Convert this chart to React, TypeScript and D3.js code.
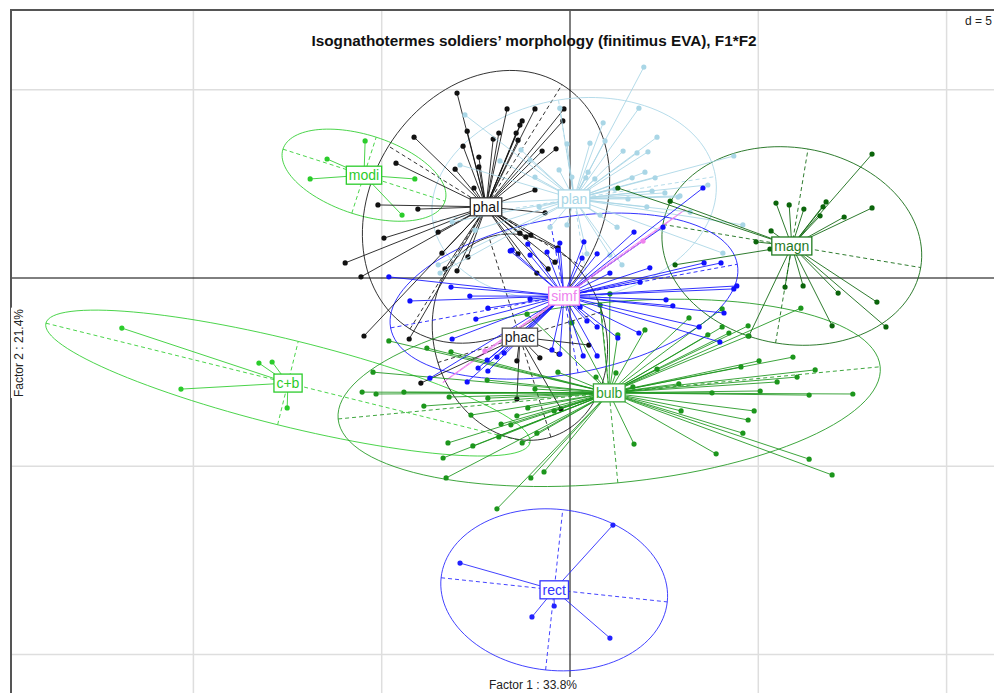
import React, { useEffect, useRef } from "react";
import * as d3 from "d3";

const W = 994;
const H = 693;

const titleText = "Isognathotermes soldiers\u2019 morphology (finitimus EVA), F1*F2";
const xLabel = "Factor 1 : 33.8%";
const yLabel = "Factor 2 : 21.4%";
const gridLabel = "d = 5";
const gridX = [-10, -5, 5, 10];
const gridY = [-10, -5, 5];

type P = [number, number];

const modiPts: P[] = [[-5.44, 3.64], [-6.45, 3.16], [-6.9, 2.63], [-4.12, 2.63], [-4.46, 1.67]];
const cbPts: P[] = [[-11.9, -1.33], [-8.26, -2.26], [-7.91, -2.23], [-10.33, -2.95], [-7.51, -3.45]];
const rectPts: P[] = [[-2.92, -7.57], [1.14, -6.56], [-1.01, -9.0], [-0.42, -8.71], [1.06, -9.56]];
const phacPts: P[] = [[0.5, -1.78], [-0.29, -2.02], [-0.8, -2.12], [-1.41, -2.2], [-1.41, -3.21], [-0.24, -3.48], [-3.96, -2.79]];
const simfPts: P[] = [[-2.26, -1.94], [1.94, 0.98]];
const phalPts: P[] = [
  [-3.0, 4.91], [-1.67, 4.49], [-0.93, 4.49], [-0.16, 4.49], [-0.19, 4.17], [-2.73, 3.9], [-1.27, 4.17],
  [-1.33, 4.06], [-1.43, 3.85], [-1.89, 3.85], [-2.04, 3.69], [-1.38, 3.66], [-2.84, 3.5], [-0.37, 3.43],
  [-0.74, 3.37], [-2.42, 3.21], [-2.42, 2.95], [-3.05, 2.89], [-0.93, 2.34], [-2.55, 2.39], [-3.5, 1.22],
  [-3.4, 0.66], [-2.71, 0.56], [-0.66, 1.73], [-1.33, 1.19], [-1.17, 1.09], [-0.32, 0.8], [-1.04, 1.14],
  [-4.14, 3.74], [-4.62, 3.05], [-5.1, 1.94], [-4.04, 1.83], [-4.94, 1.06], [-5.97, 0.4], [-5.55, 0.03],
  [-5.47, -1.54], [-4.27, -1.62], [-3.32, 0.24], [-3.0, 0.19], [-1.38, 0.64], [-0.88, 0.13], [-0.58, 0.24],
  [-0.4, 0.42]
];
const planPts: P[] = [
  [1.96, 5.6], [1.83, 4.51], [0.88, 4.12], [-0.27, 4.51], [-2.79, 4.33], [0.93, 3.64], [2.31, 3.74],
  [0.53, 3.58], [1.41, 3.37], [1.78, 3.32], [2.07, 3.35], [-0.08, 3.56], [-1.3, 3.4], [-1.06, 3.13],
  [-1.86, 3.11], [-0.93, 2.68], [-0.29, 2.87], [0.05, 2.68], [0.48, 2.81], [0.42, 2.66], [0.66, 2.63],
  [1.65, 2.66], [1.99, 2.81], [1.19, 2.36], [1.54, 2.1], [2.04, 1.89], [3.66, 2.47], [2.92, 2.18],
  [1.25, 1.35], [-0.82, 1.89], [-2.18, 1.99], [0.35, 2.26], [-0.08, 1.41], [-0.53, 1.35], [4.35, 3.24],
  [2.26, 2.66], [2.18, 2.31], [2.52, 2.26], [2.87, 2.15], [4.59, 1.41], [4.06, 0.66], [-3.5, 0.35],
  [-3.45, 0.13], [0.45, 0.64], [1.38, 0.35], [-3.13, 1.49], [-2.52, 1.27], [-2.92, 3.0], [0.8, 1.67],
  [3.19, 1.75], [1.06, 0.61]
];
const bluePts: P[] = [
  [-4.81, 0.03], [-3.16, -0.24], [-4.25, -0.61], [-2.18, -0.8], [-2.5, -1.09], [-3.13, -1.62], [-3.72, -2.66],
  [-2.73, -2.76], [-2.44, -2.39], [-1.94, -2.1], [-1.75, -1.99], [-2.2, -2.18], [-0.48, -1.91], [-0.27, -2.02],
  [0.35, -2.07], [0.72, -2.07], [0.45, -1.14], [0.72, -1.3], [1.27, -1.59], [1.06, 0.13], [-1.54, 0.74],
  [-1.06, 0.61], [-0.61, 0.69], [0.32, 0.53], [0.72, 0.64], [-0.27, 0.93], [-1.06, -0.56], [0.27, -0.77],
  [1.7, 1.22], [3.53, 2.39], [2.47, 1.35], [0.37, 0.96], [-0.32, 0.74], [-1.12, 0.9], [-1.59, 0.72],
  [3.56, 0.4], [4.01, 0.4], [4.43, -0.21], [4.35, -0.29], [2.55, -0.58], [2.73, -0.74], [3.43, -1.3],
  [3.98, -1.7], [4.09, -0.93], [-2.18, -2.47], [1.83, -1.46], [-2.66, -0.48], [1.86, -0.11], [2.12, 0.27]
];
const bulbPts: P[] = [
  [5.92, -2.1], [5.02, -2.2], [4.54, -2.36], [6.51, -2.44], [6.03, -2.63], [5.5, -2.76], [2.89, -2.81],
  [5.05, -3.0], [3.77, -3.05], [7.51, -3.08], [6.35, -3.11], [4.89, -3.53], [2.95, -3.53], [4.73, -3.77],
  [4.59, -4.12], [1.7, -4.41], [3.88, -4.67], [6.35, -4.81], [6.96, -5.23], [2.31, -2.42], [1.67, -2.89],
  [1.22, -2.52], [1.27, -1.51], [4.04, -0.82], [3.16, -1.06], [4.73, -1.27], [4.22, -1.46], [3.66, -1.51],
  [4.04, -1.3], [4.73, -1.54], [6.13, -0.8], [-0.32, -2.5], [0.69, -2.63], [-3.8, -1.86], [-3.16, -1.96],
  [-3.21, -3.16], [-2.18, -3.19], [-0.93, -2.95], [-3.88, -3.4], [-2.63, -3.64], [-1.41, -3.66], [-0.42, -3.53],
  [-1.83, -3.88], [-1.57, -3.9], [-1.89, -4.22], [-0.88, -4.12], [-3.24, -4.38], [-2.58, -4.46], [-1.27, -4.38],
  [-3.37, -4.78], [-3.29, -5.31], [-1.04, -5.31], [-0.69, -5.15], [-1.94, -6.13], [-4.81, -1.67], [-5.23, -2.5],
  [-5.52, -3.03], [-5.15, -3.08], [-4.41, -3.03], [-1.12, -3.45], [-2.2, -2.71], [-1.14, -0.96], [0.05, -1.19],
  [1.06, -0.42], [0.8, -0.72], [1.99, -1.38]
];
const magnPts: P[] = [
  [8.02, 3.29], [8.02, 1.86], [7.28, 1.62], [6.8, 2.02], [6.72, 1.89], [6.64, 1.65], [6.21, 1.83], [5.82, 1.94],
  [5.47, 1.99], [5.34, 1.25], [4.94, 0.96], [5.31, 0.77], [2.79, 0.35], [2.66, 2.04], [5.71, -0.24], [6.19, -0.21],
  [7.12, -0.4], [8.15, -0.64], [6.96, -1.27], [8.39, -1.3], [4.75, -1.54], [1.27, 2.39]
];

// class labels, centroids and ellipse parameters (semi-axes in units, angle in degrees)
const classLabels = ["modi", "c+b", "phac", "phal", "plan", "magn", "bulb", "", "rect", "simf"];
const classPoints = [modiPts, cbPts, phacPts, phalPts, planPts, magnPts, bulbPts, bluePts, rectPts, simfPts];
const centerX = [-5.47, -7.49, -1.33, -2.23, 0.11, 5.89, 1.04, -0.16, -0.42, -0.16];
const centerY = [2.73, -2.79, -1.57, 1.89, 2.1, 0.85, -3.05, -0.48, -8.28, -0.48];
const ellA = [2.26, 6.62, 2.78, 3.82, 3.8, 3.47, 7.23, 4.68, 3.02, 3.95];
const ellB = [1.06, 1.14, 2.28, 3.05, 2.66, 2.61, 2.4, 2.07, 2.14, 0.02];
const ellAngle = [-17.8, -13.9, 107.2, 58.1, 9, -9.5, 5.5, 10.4, -6.1, 35.5];

const classColors = ["#2bcc2b", "#2bcc2b", "#111111", "#111111", "#a9d6e6", "#0b650b", "#1c961c", "#1010ff", "#2222ff", "#ee82ee"];
const labelBorder = ["#2bcc2b", "#2bcc2b", "#555555", "#333333", "#a9d6e6", "#1f7a1f", "#3aa83a", "#1010ff", "#3333ff", "#ee82ee"];
const labelText = ["#2bcc2b", "#2bcc2b", "#222222", "#111111", "#a9d6e6", "#1f7a1f", "#2f9f2f", "#1010ff", "#3333ff", "#ee82ee"];

export default function App() {
  const ref = useRef<SVGSVGElement | null>(null);

  useEffect(() => {
    const svg = d3.select(ref.current);
    svg.selectAll("*").remove();
    const k = 37.66;
    const x = d3.scaleLinear().domain([-15, 10]).range([570 - 15 * k, 570 + 10 * k]);
    const y = d3.scaleLinear().domain([-10, 5]).range([278 + 10 * k, 278 - 5 * k]);
    const font = "'Liberation Sans', Arial, sans-serif";

    svg.append("rect").attr("x", 0).attr("y", 0).attr("width", W).attr("height", H).attr("fill", "#fff");

    // grid
    const g = svg.append("g");
    gridX.forEach((v) => {
      g.append("line").attr("x1", x(v)).attr("x2", x(v)).attr("y1", 10).attr("y2", H)
        .attr("stroke", "#dedede").attr("stroke-width", 1.5);
    });
    gridY.forEach((v) => {
      g.append("line").attr("x1", 11).attr("x2", W).attr("y1", y(v)).attr("y2", y(v))
        .attr("stroke", "#dedede").attr("stroke-width", 1.5);
    });
    // axes at zero
    g.append("line").attr("x1", x(0)).attr("x2", x(0)).attr("y1", 10).attr("y2", H).attr("stroke", "#000").attr("stroke-width", 1);
    g.append("line").attr("x1", 11).attr("x2", W).attr("y1", y(0)).attr("y2", y(0)).attr("stroke", "#000").attr("stroke-width", 1);

    // d = 5 label
    svg.append("text").attr("x", 992).attr("y", 25).attr("text-anchor", "end")
      .attr("font-family", font).attr("font-size", 12).attr("fill", "#222").text(gridLabel);

    const line = d3.line<P>().x((p) => x(p[0])).y((p) => y(p[1]));

    const n = classLabels.length;
    // ellipses
    for (let i = 0; i < n; i++) {
      const r = (ellAngle[i] * Math.PI) / 180;
      const cx = centerX[i], cy = centerY[i], a = ellA[i], b = ellB[i];
      const pts: P[] = d3.range(0, 121).map((j) => {
        const t = (j / 120) * 2 * Math.PI;
        const ex = a * Math.cos(t), ey = b * Math.sin(t);
        return [cx + ex * Math.cos(r) - ey * Math.sin(r), cy + ex * Math.sin(r) + ey * Math.cos(r)];
      });
      svg.append("path").attr("d", line(pts)).attr("fill", "none").attr("stroke", classColors[i]).attr("stroke-width", 1).attr("opacity", 0.85);
      const ax: P[] = [[cx - a * Math.cos(r), cy - a * Math.sin(r)], [cx + a * Math.cos(r), cy + a * Math.sin(r)]];
      const bx: P[] = [[cx + b * Math.sin(r), cy - b * Math.cos(r)], [cx - b * Math.sin(r), cy + b * Math.cos(r)]];
      [ax, bx].forEach((seg) => {
        svg.append("path").attr("d", line(seg)).attr("fill", "none").attr("stroke", classColors[i])
          .attr("stroke-width", 1).attr("stroke-dasharray", "4,3").attr("opacity", 0.85);
      });
    }

    // stars and points
    for (let i = 0; i < n; i++) {
      const grp = svg.append("g");
      classPoints[i].forEach((p) => {
        grp.append("line").attr("x1", x(centerX[i])).attr("y1", y(centerY[i])).attr("x2", x(p[0])).attr("y2", y(p[1]))
          .attr("stroke", classColors[i]).attr("stroke-width", 1).attr("opacity", 0.85);
      });
      classPoints[i].forEach((p) => {
        grp.append("circle").attr("cx", x(p[0])).attr("cy", y(p[1])).attr("r", 2.6).attr("fill", classColors[i]);
      });
    }

    // labels
    for (let i = 0; i < n; i++) {
      if (!classLabels[i]) continue;
      const lg = svg.append("g");
      const t = lg.append("text").attr("x", x(centerX[i])).attr("y", y(centerY[i]) + 5).attr("text-anchor", "middle")
        .attr("font-family", font).attr("font-size", 14).attr("fill", labelText[i]).text(classLabels[i]);
      const bb = (t.node() as SVGTextElement).getBBox();
      lg.insert("rect", "text").attr("x", bb.x - 2.5).attr("y", y(centerY[i]) - 9).attr("width", bb.width + 5).attr("height", 18)
        .attr("fill", "#fff").attr("stroke", labelBorder[i]).attr("stroke-width", 1.3);
    }

    // frame (top and left)
    svg.append("line").attr("x1", 10).attr("x2", W).attr("y1", 10).attr("y2", 10).attr("stroke", "#555").attr("stroke-width", 2);
    svg.append("line").attr("x1", 11).attr("x2", 11).attr("y1", 9).attr("y2", H).attr("stroke", "#555").attr("stroke-width", 2);

    // title
    svg.append("text").attr("x", 534).attr("y", 46).attr("text-anchor", "middle").attr("font-family", font)
      .attr("font-weight", "bold").attr("font-size", 14.5).attr("fill", "#111")
      .attr("textLength", 445).attr("lengthAdjust", "spacingAndGlyphs").text(titleText);

    // axis labels
    const yl = svg.append("g").attr("transform", "translate(23,353) rotate(-90)");
    const ylt = yl.append("text").attr("x", 0).attr("y", 0).attr("text-anchor", "middle").attr("font-family", font)
      .attr("font-size", 12).attr("fill", "#222").text(yLabel);
    const yb = (ylt.node() as SVGTextElement).getBBox();
    yl.insert("rect", "text").attr("x", yb.x - 1).attr("y", yb.y - 1).attr("width", yb.width + 2).attr("height", yb.height + 2).attr("fill", "#fff");

    const xl = svg.append("g");
    const xlt = xl.append("text").attr("x", 533).attr("y", 689).attr("text-anchor", "middle").attr("font-family", font)
      .attr("font-size", 12).attr("fill", "#222").text(xLabel);
    const xb = (xlt.node() as SVGTextElement).getBBox();
    xl.insert("rect", "text").attr("x", xb.x - 1).attr("y", xb.y - 1).attr("width", xb.width + 2).attr("height", xb.height + 2).attr("fill", "#fff");
  }, []);

  return (
    <svg ref={ref} width={W} height={H} style={{ position: "absolute", left: 0, top: 0, display: "block" }} />
  );
}
